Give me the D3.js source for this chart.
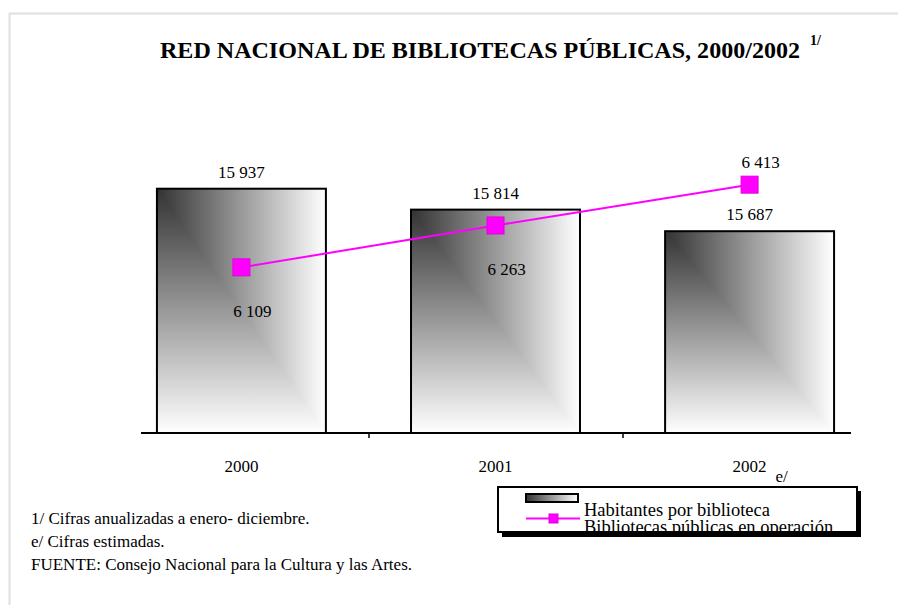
<!DOCTYPE html>
<html>
<head>
<meta charset="utf-8">
<script src="https://cdn.jsdelivr.net/npm/d3@7"></script>
<style>
  body { margin: 0; background: #fff; }
</style>
</head>
<body>
<div id="container"></div>
<script>
/* DATA */
const years = ["2000", "2001", "2002"];
const habitantes = [15937, 15814, 15687];
const bibliotecas = [6109, 6263, 6413];
const yearNotes = ["", "", "e/"];
const footnotes = [
  "1/ Cifras anualizadas a enero- diciembre.",
  "e/ Cifras estimadas.",
  "FUENTE: Consejo Nacional para la Cultura y las Artes."
];
const legendLabels = ["Habitantes por biblioteca", "Bibliotecas públicas en operación"];

/* CONSTANTS */
const width = 898, height = 605;
const baseY = 433, topY = 93;
const serif = "'Liberation Serif', Tinos, 'Times New Roman', Times, 'DejaVu Serif', serif";
const fmt = v => d3.format(",")(v).replace(",", " ");

const svg = d3.select("#container").append("svg")
  .attr("width", width)
  .attr("height", height)
  .attr("font-family", serif)
  .style("font-family", serif);

const defs = svg.append("defs");
// corner gradient = vertical gradient everywhere + horizontal one in upper-right triangle
const gV = defs.append("linearGradient").attr("id", "gv").attr("x1", 0).attr("y1", 0).attr("x2", 0).attr("y2", 1);
gV.append("stop").attr("offset", 0).attr("stop-color", "#333");
gV.append("stop").attr("offset", 1).attr("stop-color", "#fff");
const gH = defs.append("linearGradient").attr("id", "gh").attr("x1", 0).attr("y1", 0).attr("x2", 1).attr("y2", 0);
gH.append("stop").attr("offset", 0).attr("stop-color", "#333");
gH.append("stop").attr("offset", 1).attr("stop-color", "#fff");

// frame lines
svg.append("line").attr("x1", 9).attr("x2", width).attr("y1", 13.5).attr("y2", 13.5)
  .attr("stroke", "#e0e0e0").attr("stroke-width", 2);
svg.append("line").attr("x1", 9.5).attr("x2", 9.5).attr("y1", 13).attr("y2", height)
  .attr("stroke", "#e0e0e0").attr("stroke-width", 2);

// title
svg.append("text")
  .attr("x", 480).attr("y", 58)
  .attr("text-anchor", "middle")
  .attr("font-weight", "bold")
  .attr("font-size", 23)
  .attr("textLength", 640)
  .attr("lengthAdjust", "spacingAndGlyphs")
  .text("RED NACIONAL DE BIBLIOTECAS PÚBLICAS, 2000/2002");
svg.append("text")
  .attr("x", 810).attr("y", 45)
  .attr("font-weight", "bold")
  .attr("font-size", 14)
  .text("1/");

/* SCALES */
const xScale = d3.scaleBand()
  .domain(years)
  .range([114.5, 876.5])
  .paddingInner(0.335)
  .paddingOuter(0.167);

const xStep = d3.scaleBand().domain(years).range([114.5, 876.5]);

const yScale = d3.scaleLinear()
  .domain([14500, 16500])
  .range([baseY, topY]);

const y2Scale = d3.scaleLinear()
  .domain([5500, 6750])
  .range([baseY, topY]);

/* BARS */
const bars = svg.selectAll("g.bar")
  .data(years.map((y, i) => ({ year: y, value: habitantes[i], i })))
  .join("g")
  .attr("class", "bar");

bars.each(function(d) {
  const g = d3.select(this);
  const x = xScale(d.year), w = xScale.bandwidth();
  const y = yScale(d.value), h = baseY - y;
  g.append("rect")
    .attr("x", x).attr("y", y)
    .attr("width", w).attr("height", h)
    .attr("fill", "url(#gv)");
  g.append("polygon")
    .attr("points", `${x},${y} ${x + w},${y} ${x + w},${y + h}`)
    .attr("fill", "url(#gh)");
  g.append("rect")
    .attr("x", x).attr("y", y)
    .attr("width", w).attr("height", h)
    .attr("fill", "none")
    .attr("stroke", "#000")
    .attr("stroke-width", 2);
  g.append("text")
    .attr("x", x + w / 2)
    .attr("y", y - 11)
    .attr("text-anchor", "middle")
    .attr("font-size", 17)
    .text(fmt(d.value));
});

/* AXIS */
svg.append("line")
  .attr("x1", 141).attr("x2", 851)
  .attr("y1", baseY).attr("y2", baseY)
  .attr("stroke", "#000").attr("stroke-width", 2);
svg.selectAll("line.tick")
  .data(years.slice(1))
  .join("line")
  .attr("class", "tick")
  .attr("x1", d => xStep(d) + 0.5).attr("x2", d => xStep(d) + 0.5)
  .attr("y1", baseY).attr("y2", baseY + 5)
  .attr("stroke", "#000").attr("stroke-width", 1.5);

svg.selectAll("text.xlab")
  .data(years)
  .join("text")
  .attr("class", "xlab")
  .attr("x", d => xScale(d) + xScale.bandwidth() / 2)
  .attr("y", 472)
  .attr("text-anchor", "middle")
  .attr("font-size", 17)
  .text(d => d);
svg.selectAll("text.xnote")
  .data(years)
  .join("text")
  .attr("class", "xnote")
  .attr("x", d => xScale(d) + xScale.bandwidth() / 2 + 26)
  .attr("y", 482)
  .attr("font-size", 17)
  .text((d, i) => yearNotes[i]);

/* LINE */
const cx = d => xScale(d) + xScale.bandwidth() / 2;
const lineData = years.map((y, i) => ({ year: y, value: bibliotecas[i], i }));
svg.append("path")
  .datum(lineData)
  .attr("fill", "none")
  .attr("stroke", "#ff00ff")
  .attr("stroke-width", 2)
  .attr("d", d3.line().x(d => cx(d.year)).y(d => y2Scale(d.value)));

svg.selectAll("rect.marker")
  .data(lineData)
  .join("rect")
  .attr("class", "marker")
  .attr("x", d => cx(d.year) - 8.5)
  .attr("y", d => y2Scale(d.value) - 8.5)
  .attr("width", 17).attr("height", 17)
  .attr("fill", "#ff00ff")
  .attr("stroke", "#e000e0");

svg.selectAll("text.lab2")
  .data(lineData)
  .join("text")
  .attr("class", "lab2")
  .attr("x", d => cx(d.year) + 11)
  .attr("y", d => d.i < 2 ? y2Scale(d.value) + 50 : y2Scale(d.value) - 17)
  .attr("text-anchor", "middle")
  .attr("font-size", 17)
  .text(d => fmt(d.value));

/* FOOTNOTES */
svg.selectAll("text.foot")
  .data(footnotes)
  .join("text")
  .attr("class", "foot")
  .attr("x", 31)
  .attr("y", (d, i) => 524 + i * 23)
  .attr("font-size", 17)
  .text(d => d);

/* LEGEND */
const lg = svg.append("g");
lg.append("rect").attr("x", 502).attr("y", 491).attr("width", 359).attr("height", 46).attr("fill", "#000");
lg.append("rect").attr("x", 498).attr("y", 487).attr("width", 359).attr("height", 45)
  .attr("fill", "#fff").attr("stroke", "#000").attr("stroke-width", 2);
lg.append("rect").attr("x", 526).attr("y", 494).attr("width", 52).attr("height", 8)
  .attr("fill", "url(#gh)").attr("stroke", "#000").attr("stroke-width", 2);
lg.append("text").attr("x", 584).attr("y", 516).attr("font-size", 18.5).text(legendLabels[0]);
lg.append("line").attr("x1", 526).attr("x2", 580).attr("y1", 518.5).attr("y2", 518.5)
  .attr("stroke", "#ff00ff").attr("stroke-width", 2);
lg.append("rect").attr("x", 549).attr("y", 514).attr("width", 9).attr("height", 9)
  .attr("fill", "#ff00ff").attr("stroke", "#e000e0");
lg.append("clipPath").attr("id", "lgclip").append("rect")
  .attr("x", 498).attr("y", 487).attr("width", 359).attr("height", 44);
lg.append("text").attr("x", 584).attr("y", 533).attr("font-size", 18.5)
  .attr("clip-path", "url(#lgclip)").text(legendLabels[1]);
</script>
</body>
</html>
